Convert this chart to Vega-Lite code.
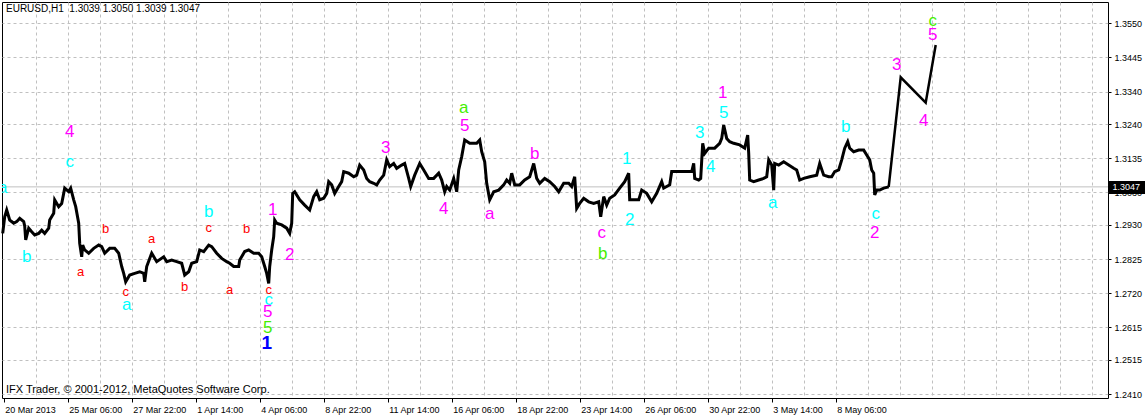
{
  "$schema": "https://vega.github.io/schema/vega-lite/v6.json",
  "width": 1106,
  "height": 396,
  "autosize": {"type": "none"},
  "padding": {"left": 2, "top": 2, "right": 37, "bottom": 17},
  "background": "white",
  "config": {
    "view": {"stroke": "black", "strokeWidth": 1},
    "font": "Liberation Sans",
    "axis": {"labelFont": "Liberation Sans", "labelFontSize": 9, "labelColor": "black", "domain": false}
  },
  "title": {
    "text": "EURUSD,H1\u00a0\u00a01.3039 1.3050 1.3039 1.3047",
    "subtitle": "IFX Trader, © 2001-2012, MetaQuotes Software Corp.",
    "anchor": "start",
    "frame": "group",
    "orient": "top",
    "font": "Liberation Sans",
    "fontSize": 10,
    "fontWeight": "normal",
    "color": "black",
    "subtitleFont": "Liberation Sans",
    "subtitleFontSize": 11,
    "subtitleColor": "black",
    "subtitlePadding": 369.5,
    "offset": -392.8,
    "dx": 4
  },
  "datasets": {
    "lastPrice": [{"price": 1.3047}],
    "series": [
      {"bar": -1, "price": 1.2904}, {"bar": 1, "price": 1.2955}, {"bar": 3, "price": 1.2976}, {"bar": 6, "price": 1.2945}, {"bar": 10, "price": 1.2935}, {"bar": 13, "price": 1.294}, {"bar": 16, "price": 1.295}, {"bar": 20, "price": 1.294}, {"bar": 21, "price": 1.2927}, {"bar": 22, "price": 1.2884}, {"bar": 25, "price": 1.292}, {"bar": 28, "price": 1.2909}, {"bar": 31, "price": 1.2899}, {"bar": 35, "price": 1.2904}, {"bar": 38, "price": 1.2914}, {"bar": 41, "price": 1.2904}, {"bar": 45, "price": 1.292}, {"bar": 46, "price": 1.2945}, {"bar": 50, "price": 1.2966}, {"bar": 51, "price": 1.3007}, {"bar": 55, "price": 1.2986}, {"bar": 58, "price": 1.2996}, {"bar": 60, "price": 1.3027}, {"bar": 61, "price": 1.3043}, {"bar": 65, "price": 1.3032}, {"bar": 67, "price": 1.3043}, {"bar": 70, "price": 1.3007}, {"bar": 72, "price": 1.2986}, {"bar": 75, "price": 1.2935}, {"bar": 76, "price": 1.2873}, {"bar": 78, "price": 1.2832}, {"bar": 79, "price": 1.2868}, {"bar": 81, "price": 1.2853}, {"bar": 85, "price": 1.2843}, {"bar": 90, "price": 1.2858}, {"bar": 95, "price": 1.2868}, {"bar": 98, "price": 1.2863}, {"bar": 101, "price": 1.2843}, {"bar": 106, "price": 1.2858}, {"bar": 111, "price": 1.2858}, {"bar": 115, "price": 1.2843}, {"bar": 118, "price": 1.2802}, {"bar": 120, "price": 1.2781}, {"bar": 122, "price": 1.2755}, {"bar": 126, "price": 1.2776}, {"bar": 131, "price": 1.2781}, {"bar": 136, "price": 1.2786}, {"bar": 140, "price": 1.2781}, {"bar": 141, "price": 1.2755}, {"bar": 143, "price": 1.2802}, {"bar": 146, "price": 1.2827}, {"bar": 148, "price": 1.2843}, {"bar": 153, "price": 1.2817}, {"bar": 160, "price": 1.2832}, {"bar": 163, "price": 1.2817}, {"bar": 168, "price": 1.2822}, {"bar": 173, "price": 1.2817}, {"bar": 178, "price": 1.2812}, {"bar": 181, "price": 1.2776}, {"bar": 185, "price": 1.2786}, {"bar": 188, "price": 1.2812}, {"bar": 193, "price": 1.2817}, {"bar": 196, "price": 1.2853}, {"bar": 200, "price": 1.2848}, {"bar": 205, "price": 1.2868}, {"bar": 208, "price": 1.2863}, {"bar": 213, "price": 1.2843}, {"bar": 218, "price": 1.2827}, {"bar": 223, "price": 1.2817}, {"bar": 226, "price": 1.2812}, {"bar": 230, "price": 1.2802}, {"bar": 235, "price": 1.2802}, {"bar": 236, "price": 1.2822}, {"bar": 241, "price": 1.2848}, {"bar": 245, "price": 1.2853}, {"bar": 250, "price": 1.2843}, {"bar": 255, "price": 1.2843}, {"bar": 258, "price": 1.2832}, {"bar": 261, "price": 1.2802}, {"bar": 263, "price": 1.2781}, {"bar": 265, "price": 1.275}, {"bar": 266, "price": 1.2802}, {"bar": 268, "price": 1.2853}, {"bar": 270, "price": 1.2894}, {"bar": 271, "price": 1.2945}, {"bar": 273, "price": 1.2935}, {"bar": 278, "price": 1.293}, {"bar": 283, "price": 1.292}, {"bar": 286, "price": 1.2904}, {"bar": 288, "price": 1.2935}, {"bar": 289, "price": 1.3027},
      {"bar": 291, "price": 1.3032}, {"bar": 296, "price": 1.3007}, {"bar": 301, "price": 1.2991}, {"bar": 306, "price": 1.2976}, {"bar": 310, "price": 1.3017}, {"bar": 313, "price": 1.3032}, {"bar": 316, "price": 1.3007}, {"bar": 320, "price": 1.3012}, {"bar": 323, "price": 1.3027}, {"bar": 325, "price": 1.3063}, {"bar": 328, "price": 1.3053}, {"bar": 331, "price": 1.3027}, {"bar": 335, "price": 1.3048}, {"bar": 338, "price": 1.3063}, {"bar": 340, "price": 1.3094}, {"bar": 345, "price": 1.3089}, {"bar": 350, "price": 1.3078}, {"bar": 353, "price": 1.3083}, {"bar": 356, "price": 1.3114}, {"bar": 360, "price": 1.3099}, {"bar": 363, "price": 1.3073}, {"bar": 366, "price": 1.3063}, {"bar": 370, "price": 1.3058}, {"bar": 373, "price": 1.3053}, {"bar": 376, "price": 1.3068}, {"bar": 380, "price": 1.3083}, {"bar": 383, "price": 1.313}, {"bar": 386, "price": 1.3109}, {"bar": 390, "price": 1.3119}, {"bar": 393, "price": 1.3104}, {"bar": 398, "price": 1.3114}, {"bar": 401, "price": 1.3119}, {"bar": 405, "price": 1.3073}, {"bar": 407, "price": 1.3048}, {"bar": 411, "price": 1.3083}, {"bar": 416, "price": 1.3119}, {"bar": 420, "price": 1.3099}, {"bar": 425, "price": 1.3073}, {"bar": 430, "price": 1.3073}, {"bar": 435, "price": 1.3089}, {"bar": 438, "price": 1.3068}, {"bar": 441, "price": 1.3032},
      {"bar": 443, "price": 1.3048}, {"bar": 446, "price": 1.3037}, {"bar": 450, "price": 1.3073}, {"bar": 453, "price": 1.3032}, {"bar": 455, "price": 1.3099}, {"bar": 458, "price": 1.314}, {"bar": 461, "price": 1.3191}, {"bar": 466, "price": 1.3181}, {"bar": 473, "price": 1.3181}, {"bar": 476, "price": 1.3191}, {"bar": 478, "price": 1.3155}, {"bar": 481, "price": 1.3124}, {"bar": 483, "price": 1.3058}, {"bar": 486, "price": 1.3007}, {"bar": 490, "price": 1.3032}, {"bar": 495, "price": 1.3037}, {"bar": 500, "price": 1.3053}, {"bar": 503, "price": 1.3068}, {"bar": 506, "price": 1.3058}, {"bar": 508, "price": 1.3089}, {"bar": 511, "price": 1.3053}, {"bar": 516, "price": 1.3053}, {"bar": 521, "price": 1.3068}, {"bar": 526, "price": 1.3078}, {"bar": 530, "price": 1.3119}, {"bar": 533, "price": 1.3073}, {"bar": 536, "price": 1.3058}, {"bar": 541, "price": 1.3073}, {"bar": 546, "price": 1.3063}, {"bar": 551, "price": 1.3048}, {"bar": 555, "price": 1.3032}, {"bar": 560, "price": 1.3058}, {"bar": 565, "price": 1.3058}, {"bar": 568, "price": 1.3048}, {"bar": 571, "price": 1.3078}, {"bar": 573, "price": 1.2981}, {"bar": 576, "price": 1.2996}, {"bar": 580, "price": 1.3012}, {"bar": 585, "price": 1.3001}, {"bar": 590, "price": 1.2996}, {"bar": 595, "price": 1.3001}, {"bar": 597, "price": 1.2955}, {"bar": 600, "price": 1.3017}, {"bar": 603, "price": 1.2991}, {"bar": 606, "price": 1.3012}, {"bar": 611, "price": 1.3022}, {"bar": 616, "price": 1.3043}, {"bar": 621, "price": 1.3063}, {"bar": 625, "price": 1.3089}, {"bar": 626, "price": 1.3007}, {"bar": 630, "price": 1.3007}, {"bar": 635, "price": 1.3007}, {"bar": 638, "price": 1.3037}, {"bar": 643, "price": 1.3027}, {"bar": 648, "price": 1.3001}, {"bar": 653, "price": 1.3027}, {"bar": 658, "price": 1.3063},
      {"bar": 660, "price": 1.3043}, {"bar": 663, "price": 1.3048}, {"bar": 666, "price": 1.3053}, {"bar": 668, "price": 1.3094}, {"bar": 671, "price": 1.3094}, {"bar": 676, "price": 1.3094}, {"bar": 683, "price": 1.3094}, {"bar": 688, "price": 1.3094}, {"bar": 690, "price": 1.3119}, {"bar": 691, "price": 1.3073}, {"bar": 695, "price": 1.3068}, {"bar": 697, "price": 1.3073}, {"bar": 699, "price": 1.3181}, {"bar": 701, "price": 1.315}, {"bar": 705, "price": 1.3166}, {"bar": 711, "price": 1.3166}, {"bar": 716, "price": 1.3181}, {"bar": 718, "price": 1.3196}, {"bar": 720, "price": 1.3237}, {"bar": 723, "price": 1.3196}, {"bar": 726, "price": 1.3186}, {"bar": 730, "price": 1.3181}, {"bar": 736, "price": 1.3176}, {"bar": 741, "price": 1.3166}, {"bar": 744, "price": 1.3206}, {"bar": 745, "price": 1.315}, {"bar": 746, "price": 1.3068}, {"bar": 750, "price": 1.3063}, {"bar": 755, "price": 1.3068}, {"bar": 760, "price": 1.3073}, {"bar": 763, "price": 1.3078}, {"bar": 765, "price": 1.313}, {"bar": 768, "price": 1.3114}, {"bar": 770, "price": 1.3037}, {"bar": 771, "price": 1.3119}, {"bar": 775, "price": 1.3114}, {"bar": 780, "price": 1.3124}, {"bar": 785, "price": 1.3114}, {"bar": 790, "price": 1.3104}, {"bar": 793, "price": 1.3099}, {"bar": 796, "price": 1.3068}, {"bar": 800, "price": 1.3073}, {"bar": 806, "price": 1.3078}, {"bar": 813, "price": 1.3083}, {"bar": 816, "price": 1.3119}, {"bar": 820, "price": 1.3083}, {"bar": 825, "price": 1.3078}, {"bar": 828, "price": 1.3078}, {"bar": 831, "price": 1.3094}, {"bar": 835, "price": 1.3099}, {"bar": 838, "price": 1.313}, {"bar": 841, "price": 1.3166}, {"bar": 844, "price": 1.3186}, {"bar": 846, "price": 1.3166}, {"bar": 850, "price": 1.3155}, {"bar": 855, "price": 1.316}, {"bar": 860, "price": 1.316}, {"bar": 863, "price": 1.3145}, {"bar": 866, "price": 1.313}, {"bar": 868, "price": 1.3099}, {"bar": 870, "price": 1.3089}, {"bar": 871, "price": 1.3022}, {"bar": 873, "price": 1.3037}, {"bar": 876, "price": 1.3037}, {"bar": 880, "price": 1.3043}, {"bar": 885, "price": 1.3047}
    ],
    "projection": [
      {"bar": 885, "price": 1.3047}, {"bar": 897, "price": 1.3384}, {"bar": 922, "price": 1.3306}, {"bar": 932, "price": 1.3483}
    ],
    "waves": [
      {"bar": 66, "price": 1.3217, "label": "4", "degree": "Minute"},
      {"bar": 66, "price": 1.3122, "label": "c", "degree": "Minuette"},
      {"bar": -1, "price": 1.3044, "label": "a", "degree": "Minuette"},
      {"bar": 23, "price": 1.2832, "label": "b", "degree": "Minuette"},
      {"bar": 77, "price": 1.2786, "label": "a", "degree": "Subminuette"},
      {"bar": 102, "price": 1.2917, "label": "b", "degree": "Subminuette"},
      {"bar": 122, "price": 1.2725, "label": "c", "degree": "Subminuette"},
      {"bar": 123, "price": 1.2684, "label": "a", "degree": "Minuette"},
      {"bar": 148, "price": 1.2886, "label": "a", "degree": "Subminuette"},
      {"bar": 181, "price": 1.274, "label": "b", "degree": "Subminuette"},
      {"bar": 205, "price": 1.2971, "label": "b", "degree": "Minuette"},
      {"bar": 205, "price": 1.292, "label": "c", "degree": "Subminuette"},
      {"bar": 243, "price": 1.2917, "label": "b", "degree": "Subminuette"},
      {"bar": 226, "price": 1.273, "label": "a", "degree": "Subminuette"},
      {"bar": 269, "price": 1.2976, "label": "1", "degree": "Minute"},
      {"bar": 286, "price": 1.2837, "label": "2", "degree": "Minute"},
      {"bar": 265, "price": 1.273, "label": "c", "degree": "Subminuette"},
      {"bar": 265, "price": 1.2699, "label": "c", "degree": "Minuette"},
      {"bar": 264, "price": 1.2663, "label": "5", "degree": "Minute"},
      {"bar": 264, "price": 1.2612, "label": "5", "degree": "Minor"},
      {"bar": 263, "price": 1.2566, "label": "1", "degree": "Intermediate"},
      {"bar": 382, "price": 1.3166, "label": "3", "degree": "Minute"},
      {"bar": 440, "price": 1.2978, "label": "4", "degree": "Minute"},
      {"bar": 460, "price": 1.3289, "label": "a", "degree": "Minor"},
      {"bar": 461, "price": 1.3234, "label": "5", "degree": "Minute"},
      {"bar": 486, "price": 1.2964, "label": "a", "degree": "Minute"},
      {"bar": 531, "price": 1.3147, "label": "b", "degree": "Minute"},
      {"bar": 623, "price": 1.3133, "label": "1", "degree": "Minuette"},
      {"bar": 626, "price": 1.2945, "label": "2", "degree": "Minuette"},
      {"bar": 598, "price": 1.2906, "label": "c", "degree": "Minute"},
      {"bar": 599, "price": 1.2841, "label": "b", "degree": "Minor"},
      {"bar": 696, "price": 1.3213, "label": "3", "degree": "Minuette"},
      {"bar": 719, "price": 1.3337, "label": "1", "degree": "Minute"},
      {"bar": 720, "price": 1.3275, "label": "5", "degree": "Minuette"},
      {"bar": 707, "price": 1.3107, "label": "4", "degree": "Minuette"},
      {"bar": 769, "price": 1.2998, "label": "a", "degree": "Minuette"},
      {"bar": 842, "price": 1.323, "label": "b", "degree": "Minuette"},
      {"bar": 872, "price": 1.2964, "label": "c", "degree": "Minuette"},
      {"bar": 871, "price": 1.2906, "label": "2", "degree": "Minute"},
      {"bar": 893, "price": 1.3422, "label": "3", "degree": "Minute"},
      {"bar": 920, "price": 1.325, "label": "4", "degree": "Minute"},
      {"bar": 929, "price": 1.3514, "label": "5", "degree": "Minute"},
      {"bar": 929, "price": 1.3558, "label": "c", "degree": "Minor"}
    ]
  },
  "resolve": {"axis": {"x": "independent", "y": "independent"}},
  "layer": [
    {
      "data": {"name": "lastPrice"},
      "mark": {"type": "rule", "color": "#c0c0c0", "strokeWidth": 1},
      "encoding": {
        "y": {
          "field": "price", "type": "quantitative",
          "scale": {"domain": [1.23977, 1.36155], "nice": false, "zero": false},
          "axis": {"orient": "right", "values": [1.3047], "format": ".4f", "grid": false, "domain": false, "tickSize": 37, "tickWidth": 13, "tickColor": "black", "tickCap": "butt", "labelColor": "white", "labelPadding": -33, "labelFontSize": 9, "labelFlush": false, "labelOverlap": false, "title": null, "zindex": 1}
        }
      }
    },
    {
      "data": {"name": "series"},
      "mark": {"type": "line", "color": "black", "strokeWidth": 3},
      "encoding": {
        "x": {
          "field": "bar", "type": "quantitative",
          "scale": {"domain": [-1.7, 1104.3], "nice": false, "zero": false},
          "axis": {"orient": "bottom", "values": [32, 64, 96, 128, 160, 192, 224, 256, 288, 320, 352, 384, 416, 448, 480, 512, 544, 576, 608, 640, 672, 704, 736, 768, 800, 832, 864, 896, 928, 960, 992, 1024, 1056, 1088], "labels": false, "ticks": false, "domain": false, "grid": true, "gridColor": "#c0c0c0", "gridDash": [3, 3], "gridWidth": 1, "title": null}
        },
        "y": {
          "field": "price", "type": "quantitative",
          "scale": {"domain": [1.23977, 1.36155], "nice": false, "zero": false},
          "axis": {"orient": "right", "values": [1.241, 1.2515, 1.2615, 1.272, 1.2825, 1.293, 1.303, 1.3135, 1.324, 1.334, 1.3445, 1.355], "format": ".4f", "grid": true, "gridColor": "#c0c0c0", "gridDash": [3, 3], "gridWidth": 1, "tickSize": 3, "tickColor": "black", "labelPadding": 3, "labelFlush": false, "labelOverlap": false, "title": null}
        }
      }
    },
    {
      "data": {"name": "projection"},
      "mark": {"type": "line", "color": "black", "strokeWidth": 2.5},
      "encoding": {
        "x": {
          "field": "bar", "type": "quantitative",
          "scale": {"domain": [-1.7, 1104.3], "nice": false, "zero": false},
          "axis": {"orient": "bottom", "values": [0, 64, 128, 192, 256, 320, 384, 448, 512, 576, 640, 704, 768, 832], "labelExpr": "['20 Mar 2013','25 Mar 06:00','27 Mar 22:00','1 Apr 14:00','4 Apr 06:00','8 Apr 22:00','11 Apr 14:00','16 Apr 06:00','18 Apr 22:00','23 Apr 14:00','26 Apr 06:00','30 Apr 22:00','3 May 14:00','8 May 06:00'][round(datum.value / 64)]", "grid": false, "domain": false, "tickSize": 4, "tickColor": "black", "labelAlign": "left", "labelBaseline": "top", "labelPadding": 3, "labelOffset": 1, "labelFlush": false, "labelOverlap": false, "labelBound": false, "title": null}
        },
        "y": {
          "field": "price", "type": "quantitative",
          "scale": {"domain": [1.23977, 1.36155], "nice": false, "zero": false},
          "axis": null
        }
      }
    },
    {
      "data": {"name": "waves"},
      "transform": [{"filter": "datum.degree === 'Subminuette'"}],
      "mark": {"type": "text", "font": "Liberation Sans", "fontSize": 13, "align": "center", "baseline": "middle", "clip": true},
      "encoding": {
        "x": {"field": "bar", "type": "quantitative", "scale": {"domain": [-1.7, 1104.3], "nice": false, "zero": false}, "axis": null},
        "y": {"field": "price", "type": "quantitative", "scale": {"domain": [1.23977, 1.36155], "nice": false, "zero": false}, "axis": null},
        "text": {"field": "label"},
        "color": {"field": "degree", "type": "nominal", "scale": {"domain": ["Subminuette", "Minuette", "Minute", "Minor", "Intermediate"], "range": ["#ff0000", "#00ffff", "#ff00ff", "#44ee00", "#0000ff"]}, "legend": null}
      }
    },
    {
      "data": {"name": "waves"},
      "transform": [{"filter": "datum.degree !== 'Subminuette' && datum.degree !== 'Intermediate'"}],
      "mark": {"type": "text", "font": "Liberation Sans", "fontSize": 17, "align": "center", "baseline": "middle", "clip": true},
      "encoding": {
        "x": {"field": "bar", "type": "quantitative", "scale": {"domain": [-1.7, 1104.3], "nice": false, "zero": false}, "axis": null},
        "y": {"field": "price", "type": "quantitative", "scale": {"domain": [1.23977, 1.36155], "nice": false, "zero": false}, "axis": null},
        "text": {"field": "label"},
        "color": {"field": "degree", "type": "nominal", "scale": {"domain": ["Subminuette", "Minuette", "Minute", "Minor", "Intermediate"], "range": ["#ff0000", "#00ffff", "#ff00ff", "#44ee00", "#0000ff"]}, "legend": null}
      }
    },
    {
      "data": {"name": "waves"},
      "transform": [{"filter": "datum.degree === 'Intermediate'"}],
      "mark": {"type": "text", "font": "Liberation Sans", "fontSize": 19, "fontWeight": "bold", "align": "center", "baseline": "middle", "clip": true},
      "encoding": {
        "x": {"field": "bar", "type": "quantitative", "scale": {"domain": [-1.7, 1104.3], "nice": false, "zero": false}, "axis": null},
        "y": {"field": "price", "type": "quantitative", "scale": {"domain": [1.23977, 1.36155], "nice": false, "zero": false}, "axis": null},
        "text": {"field": "label"},
        "color": {"field": "degree", "type": "nominal", "scale": {"domain": ["Subminuette", "Minuette", "Minute", "Minor", "Intermediate"], "range": ["#ff0000", "#00ffff", "#ff00ff", "#44ee00", "#0000ff"]}, "legend": null}
      }
    }
  ]
}
